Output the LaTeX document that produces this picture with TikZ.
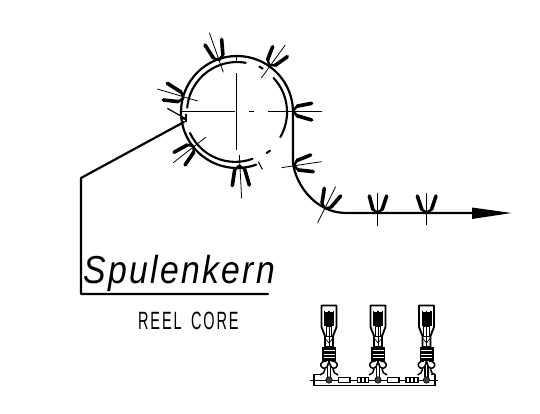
\documentclass[tikz,border=0pt]{standalone}
\usepackage{fontspec}
\usetikzlibrary{calc}
\setmainfont{Liberation Sans}
\newfontfamily\labelfont[LetterSpace=7]{Liberation Sans}
\newfontfamily\corefont[LetterSpace=13,WordSpace=1.6]{Liberation Sans}
\tikzset{
  thin line/.style={line width=0.8pt},
  main line/.style={line width=2.2pt,line cap=round,line join=round},
  base stroke/.style={line width=2.4pt,line cap=round},
  thick stroke/.style={line width=3.6pt,line cap=round},
  centre line/.style={line width=0.8pt},
  inner arc/.style={line width=2.1pt,line cap=round},
  small/.style={line width=0.7pt},
  smallthick/.style={line width=1.5pt}
}
\newcommand{\feather}[5]{%
  \coordinate (elbow) at ($(#1,#2)!0.3!#5:(#3,#4)$);
  \draw[base stroke] (#1,#2) -- (elbow);
  \draw[thick stroke] (elbow) -- (#3,#4);
}
\newcommand{\tuft}[9]{%
  \feather{#1}{#2}{#3}{#4}{28}
  \feather{#1}{#2}{#5}{#6}{-28}
  \draw[thin line] (#7,#8) -- (#9);
}
\newcommand{\terminal}{%
    \draw[line width=1.9pt,line join=round] (-7.5,10.5) -- (7.5,10.5) -- (7.5,32) -- (4,41) -- (4,52) -- (-4,52) -- (-4,41) -- (-7.5,32) -- cycle;
    \fill (-5,16) rectangle (5,31);
    \fill[white] (-3.6,12.5) rectangle (-0.8,17);
    \fill[white] (0.8,12.5) rectangle (3.6,17);
    \draw[small] (-2.8,31) rectangle (2.8,41);
    \draw[small] (0,31) -- (0,53);
    \draw[small] (-4,43) -- (0,48) -- (4,43);
    \fill (-7,52) rectangle (7,66);
    \foreach \yy in {55.5,59,62.5} \draw[white,small] (-5.5,\yy) -- (5.5,\yy);
    \draw[smallthick] (-2.5,66) .. controls (-6,66) and (-9,68) .. (-8,71) .. controls (-7,74) and (-3,74) .. (-1.5,71) -- (0,66) -- (1.5,71) .. controls (3,74) and (7,74) .. (8,71) .. controls (9,68) and (6,66) .. (2.5,66);
    \draw[smallthick] (-1.3,71) -- (-1.3,82);
    \draw[smallthick] (1.3,71) -- (1.3,82);
    \fill[black!75] (0,85) circle (3);
    \draw[small] (0,85) circle (3.2);
    \draw[smallthick] (-4,74) .. controls (-4,77) and (-6,79) .. (-9,80);
    \draw[smallthick] (4,74) .. controls (4,77) and (6,79) .. (9,80);
}
\begin{document}
\begin{tikzpicture}[x=1pt,y=-1pt]
\useasboundingbox (0,0) rectangle (540,414);
\fill[white] (0,0) rectangle (540,414);
% reel core
\draw[main line] (293,112) arc[start angle=0,end angle=-290,radius=56];
\draw[main line] (293,112) -- (293,163) .. controls (295,178) and (305,198) .. (325,208) .. controls (333,212) and (340,213) .. (347,213) -- (472,213);
\fill (472,207.5) -- (511.5,213) -- (472,219) -- cycle;
% inner arcs
\draw[inner arc] (245.7,62.8) arc[start angle=-80,end angle=-175,radius=50];
\draw[inner arc] (273.6,78) arc[start angle=-43,end angle=30,radius=50];
\draw[inner arc] (190,133) arc[start angle=155,end angle=70,radius=50];
\begin{scope}[shift={(150,20)},x=0.3333pt,y=-0.3333pt]
  \draw[inner arc] (328,140) -- (338,146);
  \draw[inner arc] (350,399) -- (360,392);
  \draw[line width=1.1pt] (325,425) -- (337,448);
  \draw[centre line] (92,275) -- (255,275);
  \draw[centre line] (298,275) -- (312,275);
  \draw[centre line] (355,275) -- (517,275);
  \draw[centre line] (260,160) -- (260,390);
  \draw[centre line] (260,105) -- (260,125);
  \tuft{208}{120}{165}{75}{215}{58}{178}{38}{220,157}
  \tuft{358}{135}{368}{80}{412}{110}{406}{75}{334,174}
  \tuft{100}{235}{40}{240}{52}{190}{22}{207}{143,243}
  \feather{430}{272}{485}{250}{28}
  \feather{430}{272}{485}{300}{-28}
  \tuft{130}{378}{105}{435}{72}{397}{167}{352}{70,428}
  \tuft{268}{437}{298}{495}{247}{497}{268}{405}{275,535}
  \tuft{432}{437}{482}{405}{490}{455}{395}{443}{515,425}
  \draw[line width=1.2pt] (52,265) -- (105,295);
  \draw[line width=2.4pt] (108,282) -- (108,305);
  \draw[line width=1.5pt] (95,295) -- (108,298);
\end{scope}
\begin{scope}[shift={(290,140)},x=0.3333pt,y=-0.3333pt]
  \tuft{105}{205}{103}{145}{152}{168}{137}{140}{83,248}
  \tuft{262}{218}{238}{168}{290}{168}{262}{158}{262,258}
  \tuft{410}{218}{382}{168}{438}{168}{410}{158}{410,255}
\end{scope}
% leader
\draw[main line] (184,122) -- (81,178) -- (81,294) -- (268,294);
\node[anchor=base west,inner sep=0pt,font=\labelfont\itshape\fontsize{39}{39}\selectfont,xscale=0.865] (spulenkern) at (83,283) {Spulenkern};
\node[anchor=base west,inner sep=0pt,font=\corefont\fontsize{25}{25}\selectfont,xscale=0.58] (reelcore) at (138,329) {REEL CORE};
% connector strip
\begin{scope}[shift={(300,295)},x=0.3333pt,y=-0.3333pt]
  \draw[small] (30,256) -- (415,256);
  \draw[smallthick] (60,238) -- (42,238) -- (42,272) -- (405,272) -- (405,238) -- (392,238);
  \draw[smallthick,fill=white] (115,247) rectangle (150,263);
  \draw[smallthick,fill=white] (262,247) rectangle (297,263);
  \draw[smallthick,fill=white] (172,247) rectangle (205,263);
  \draw[smallthick,fill=white] (318,247) rectangle (354,263);
  \foreach \xx in {182,194,330,342} \fill (\xx-3,247) rectangle (\xx+3,263);
\end{scope}
\begin{scope}[shift={(329,295)},x=1pt,y=-1pt] \terminal \end{scope}
\begin{scope}[shift={(378,295)},x=1pt,y=-1pt] \terminal \end{scope}
\begin{scope}[shift={(426.5,295)},x=1pt,y=-1pt] \terminal \end{scope}
\end{tikzpicture}
\end{document}
